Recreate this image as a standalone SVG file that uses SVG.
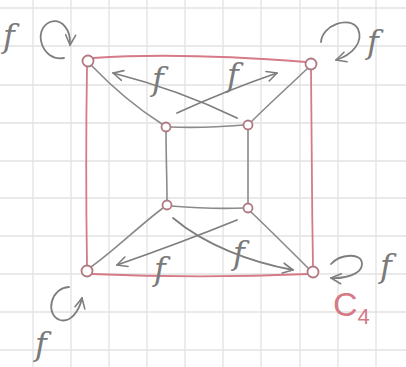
<svg xmlns="http://www.w3.org/2000/svg" width="406" height="367" viewBox="0 0 406 367">
<defs>
<style>
.grid{stroke:#e2e2e2;stroke-width:1.3}
.red{stroke:#d67a88;stroke-width:1.8;fill:none;stroke-linecap:round}
.edge{stroke:#8a8a8a;stroke-width:1.6;fill:none;stroke-linecap:round}
.arr{stroke:#7e7e7e;stroke-width:1.8;fill:none;stroke-linecap:round;stroke-linejoin:round}
.node{fill:#fff;stroke:#b07880;stroke-width:1.8}
.lab{font-family:"DejaVu Serif",serif;font-style:italic;font-size:32px;fill:#7a7a7a}
.c4{font-family:"Liberation Sans",sans-serif;fill:#d67a88}
</style>
<marker id="ah" viewBox="0 0 12 12" refX="11" refY="6" markerWidth="12" markerHeight="12" markerUnits="userSpaceOnUse" orient="auto">
<path d="M1 1 L11 6 L1 11" fill="none" stroke="#7e7e7e" stroke-width="1.6" stroke-linecap="round" stroke-linejoin="round"/>
</marker>
</defs>
<rect width="406" height="367" fill="#fff"/>
<g id="grid">
<path class="grid" d="M33 0V367M71 0V367M109 0V367M147 0V367M185 0V367M223 0V367M261 0V367M300 0V367M338 0V367M376 0V367"/>
<path class="grid" d="M0 8H406M0 46H406M0 85H406M0 123H406M0 161H406M0 198H406M0 236H406M0 274H406M0 312H406M0 350H406"/>
</g>
<g id="cycle-c4">
<path class="red" d="M93 58 C150 54 230 56 306 62"/>
<path class="red" d="M87 67 C86 130 86 200 87 266"/>
<path class="red" d="M92 274 C160 277 240 277 308 274"/>
<path class="red" d="M311 69 C311 130 312 200 313 267"/>
</g>
<g id="connectors">
<path class="edge" d="M92 66 C115 90 140 110 162 124"/>
<path class="edge" d="M308 68 C290 85 268 105 251 122"/>
<path class="edge" d="M170 127 C195 128 220 127 244 125"/>
<path class="edge" d="M166 131 C166 155 167 180 167 200"/>
<path class="edge" d="M248 129 C248 155 248 180 248 204"/>
<path class="edge" d="M171 206 C195 208 220 209 244 208"/>
<path class="edge" d="M163 208 C140 225 115 250 91 267"/>
<path class="edge" d="M251 212 C270 230 290 250 309 269"/>
<path class="arr" marker-end="url(#ah)" d="M237 118 C200 100 160 85 113 73"/>
<path class="arr" marker-end="url(#ah)" d="M177 113 C210 98 245 84 277 73"/>
<path class="arr" marker-end="url(#ah)" d="M237 220 C200 235 160 250 117 265"/>
<path class="arr" marker-end="url(#ah)" d="M173 218 C205 245 250 262 293 270"/>
<path class="arr" marker-end="url(#ah)" d="M64 58 C42 62 32 30 50 22 C62 18 71 30 70 45"/>
<path class="arr" marker-end="url(#ah)" d="M321 42 C322 25 350 15 358 29 C364 42 352 55 336 60"/>
<path class="arr" marker-end="url(#ah)" d="M331 264 C340 254 362 252 362 264 C362 274 345 279 331 278"/>
<path class="arr" marker-end="url(#ah)" d="M69 287 C50 288 45 315 60 320 C70 323 79 312 82 298"/>
</g>
<g id="n-outer-tl"><circle class="node" cx="88" cy="61" r="5.5"/></g>
<g id="n-outer-tr"><circle class="node" cx="311" cy="64" r="5.5"/></g>
<g id="n-outer-bl"><circle class="node" cx="87" cy="271" r="5.5"/></g>
<g id="n-outer-br"><circle class="node" cx="313" cy="272" r="5.5"/></g>
<g id="n-inner-tl"><circle class="node" cx="166" cy="127" r="4.5"/></g>
<g id="n-inner-tr"><circle class="node" cx="248" cy="125" r="4.5"/></g>
<g id="n-inner-bl"><circle class="node" cx="167" cy="205" r="4.5"/></g>
<g id="n-inner-br"><circle class="node" cx="248" cy="208" r="4.5"/></g>
<g id="labels">
<text class="lab" x="3" y="47">f</text>
<text class="lab" x="367" y="53">f</text>
<text class="lab" x="380" y="277">f</text>
<text class="lab" x="35" y="355" font-size="30">f</text>
<text class="lab" x="152" y="90">f</text>
<text class="lab" x="227" y="86">f</text>
<text class="lab" x="154" y="280">f</text>
<text class="lab" x="233" y="264">f</text>
<text class="c4" x="333" y="316" font-size="34">C<tspan font-size="22" dy="8">4</tspan></text>
</g>
</svg>
